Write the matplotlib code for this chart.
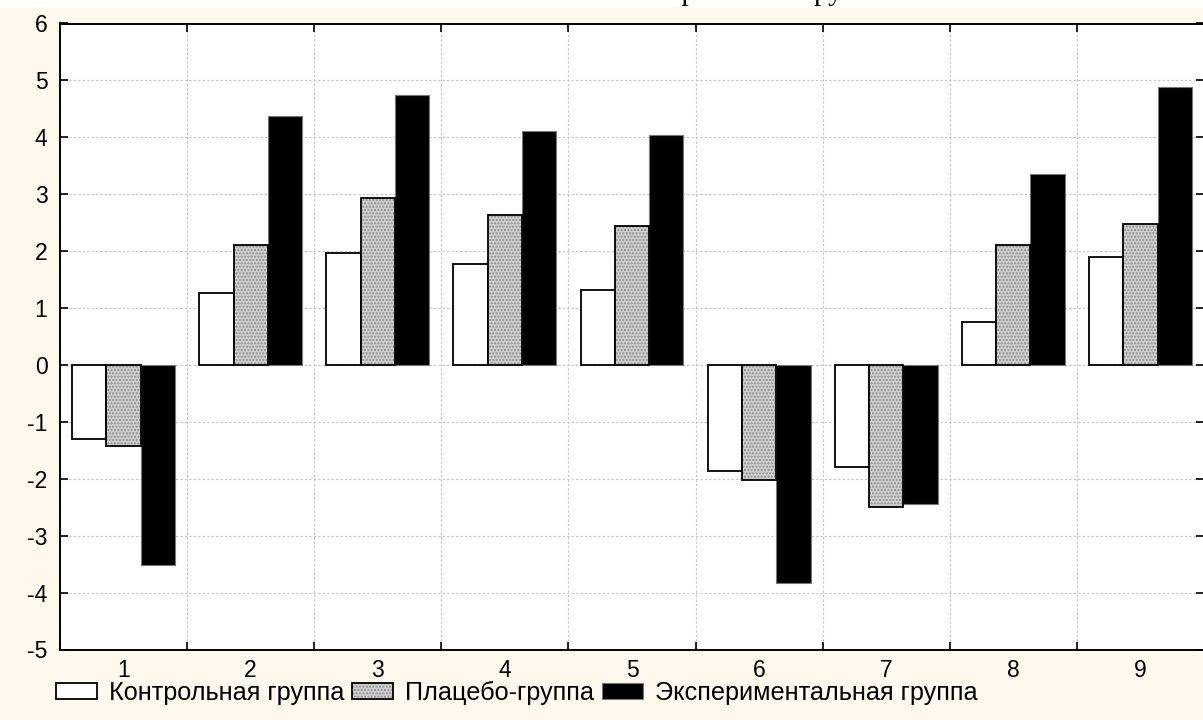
import matplotlib.pyplot as plt
import numpy as np
from matplotlib.legend_handler import HandlerTuple

# данные
categories = ['1', '2', '3', '4', '5', '6', '7', '8', '9']
control = [-1.30, 1.26, 1.97, 1.77, 1.32, -1.86, -1.80, 0.76, 1.90]
placebo = [-1.43, 2.10, 2.94, 2.63, 2.45, -2.03, -2.50, 2.10, 2.47]
experiment = [-3.51, 4.37, 4.75, 4.11, 4.04, -3.83, -2.44, 3.35, 4.88]
labels = ['Контрольная группа', 'Плацебо-группа', 'Экспериментальная группа']

plt.rcParams['font.family'] = ['Liberation Sans', 'DejaVu Sans']
plt.rcParams['axes.unicode_minus'] = False

BG = '#fff8ec'
W = 0.27

fig = plt.figure(figsize=(12.03, 7.2), dpi=100, facecolor=BG)
# белая полоса сверху с обрезанным заголовком
fig.patches.append(plt.Rectangle((0, 1 - 7 / 720), 1, 7 / 720, transform=fig.transFigure,
                                 facecolor='white', edgecolor='none', zorder=0))
fig.text(0.55, 1.0, 'Сравнение групп', family=['Liberation Serif', 'DejaVu Serif'],
         fontsize=21, ha='left', va='baseline')

ax = fig.add_axes([60 / 1203, 70.5 / 720, 1144 / 1203, 626 / 720])
ax.set_facecolor('white')

x = np.arange(1, len(categories) + 1)

b1 = ax.bar(x - W, control, W, color='white', edgecolor='black', linewidth=1.3, zorder=3)
b2h = ax.bar(x, placebo, W, color='#cfcfcf', edgecolor='#8c8c8c', hatch='.....',
             linewidth=0, zorder=3)
b2 = ax.bar(x, placebo, W, fill=False, edgecolor='black', linewidth=1.3, zorder=4)
b3 = ax.bar(x + W, experiment, W, color='black', edgecolor='#777777', linewidth=0.8, zorder=3)

ax.set_xlim(0.5, 9.5)
ax.set_ylim(-5, 6)
ax.set_yticks(range(-5, 7))
ax.set_xticks(np.arange(0.5, 10, 1))
ax.set_xticklabels([])
ax.set_xticks(x, minor=True)
ax.set_xticklabels(categories, minor=True)

ax.tick_params(axis='both', which='major', direction='in', length=6, width=1.2,
               top=True, right=True, labelsize=16.5)
ax.tick_params(axis='y', pad=9)
ax.tick_params(axis='x', which='minor', length=0, labelsize=16.5, pad=7)
ax.grid(True, which='major', color='#c4c4c4', linestyle=(0, (2, 2)), linewidth=0.8, zorder=0)
for s in ax.spines.values():
    s.set_linewidth(1.4)

ax.legend([b1, (b2h, b2), b3], labels, handler_map={tuple: HandlerTuple(ndivide=1, pad=0)},
          loc='center left', bbox_to_anchor=(56 / 1203, 27 / 720), bbox_transform=fig.transFigure,
          ncol=3, frameon=False, fontsize=18.2, handlelength=1.62, handleheight=0.63,
          handletextpad=0.47, columnspacing=0.32, borderaxespad=0, borderpad=0)

plt.savefig('out.png', dpi=100, facecolor=BG)
